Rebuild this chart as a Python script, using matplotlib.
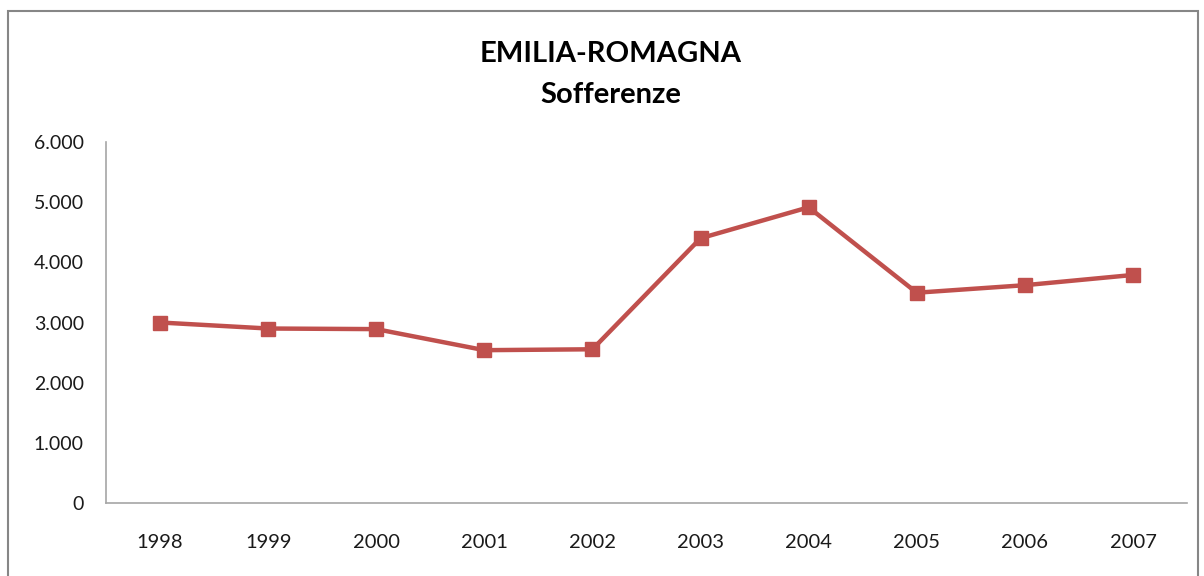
import matplotlib.pyplot as plt
from matplotlib.patches import Rectangle

# dati
anni = ['1998', '1999', '2000', '2001', '2002', '2003', '2004', '2005', '2006', '2007']
sofferenze = [3000, 2900, 2890, 2540, 2555, 4400, 4915, 3495, 3620, 3790]
y_ticks = [0, 1000, 2000, 3000, 4000, 5000, 6000]
y_labels = ['0', '1.000', '2.000', '3.000', '4.000', '5.000', '6.000']

plt.rcParams['font.family'] = ['Lato', 'DejaVu Sans']

fig = plt.figure(figsize=(12.04, 5.76), dpi=100)
ax = fig.add_axes([106 / 1204, 1 - 503 / 576, (1187 - 106) / 1204, (503 - 142) / 576])

x = range(len(anni))
ax.plot(x, sofferenze, color='#C0504D', linewidth=3.2, marker='s', markersize=10)

ax.set_xlim(-0.5, len(anni) - 0.5)
ax.set_ylim(0, 6000)
ax.set_xticks(list(x))
ax.set_xticklabels(anni, fontsize=14.5, color='#1a1a1a')
ax.set_yticks(y_ticks)
ax.set_yticklabels(y_labels, fontsize=14, color='#1a1a1a')
ax.tick_params(length=0, pad=16)
ax.tick_params(axis='x', pad=22)

for s in ['top', 'right']:
    ax.spines[s].set_visible(False)
for s in ['left', 'bottom']:
    ax.spines[s].set_color('#A6A6A6')
    ax.spines[s].set_linewidth(1.2)

# titolo
fig.text(0.507, 1 - 54 / 576, 'EMILIA-ROMAGNA', ha='center', va='center', fontsize=21, fontweight='bold')
fig.text(0.507, 1 - 95 / 576, 'Sofferenze', ha='center', va='center', fontsize=21, fontweight='bold')

# cornice
fig.patches.append(Rectangle((8 / 1204, -0.05), (1198 - 8) / 1204, 1.05 - 11 / 576,
                             transform=fig.transFigure, fill=False, edgecolor='#868686', linewidth=1.5))

fig.savefig('out.png', dpi=100)
